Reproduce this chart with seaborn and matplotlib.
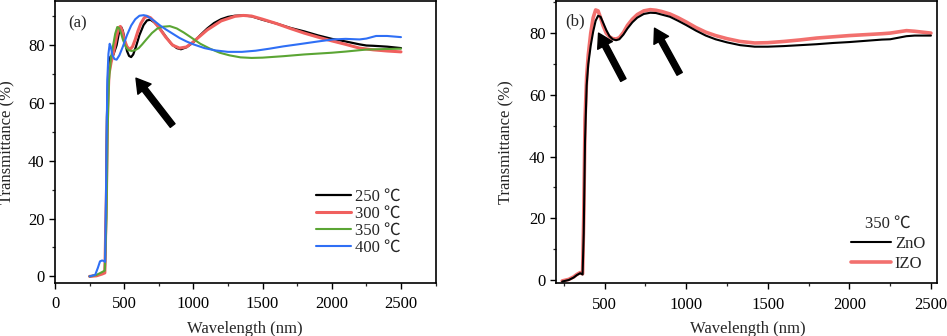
import matplotlib
matplotlib.use("Agg")
import matplotlib.pyplot as plt
import seaborn as sns
from matplotlib.ticker import MultipleLocator

# ---------------- data ----------------
wl_250 = [250, 300, 340, 360, 368, 375, 385, 400, 420, 445, 465, 478, 490, 505, 520,
          535, 550, 565, 585, 610, 640, 665, 690, 715, 740, 770, 800, 840, 880, 910,
          950, 1000, 1050, 1100, 1150, 1200, 1250, 1300, 1360, 1420, 1500, 1600, 1700,
          1800, 1900, 2000, 2100, 2200, 2250, 2300, 2400, 2500]
T_250 = [0, 0.3, 1.0, 1.5, 20, 55, 72, 76, 76.5, 80, 85, 86.3, 85, 81.5, 78,
         76.3, 75.9, 76.8, 79.5, 83.5, 87, 88.6, 88.8, 88.0, 86.8, 85, 83, 80.5, 79, 78.6,
         79.3, 81, 83.5, 85.8, 87.7, 89, 89.8, 90.2, 90.3, 90, 88.8, 87.5, 86,
         84.8, 83.4, 82.2, 81.3, 80.3, 79.9, 79.8, 79.5, 79]

wl_300 = [250, 300, 340, 360, 372, 380, 390, 405, 425, 445, 460, 472, 485, 500, 520,
          540, 560, 580, 600, 620, 645, 665, 690, 720, 760, 800, 850, 900, 950, 1000,
          1100, 1200, 1300, 1360, 1420, 1500, 1600, 1700, 1800, 1900, 2000, 2100, 2200,
          2300, 2400, 2500]
T_300 = [0, 0.2, 0.8, 1.2, 30, 58, 70, 74, 78, 83, 86, 86.5, 85, 82, 79.5,
         78.5, 79.5, 82, 85, 87.5, 89.5, 90, 89.5, 88, 85.5, 82.8, 80, 79, 79.4, 81.2,
         85.3, 88.4, 90, 90.3, 90.1, 89, 87.5, 85.8, 84.2, 82.8, 81.5, 80.3, 79,
         78.4, 78, 77.7]

wl_350 = [250, 300, 340, 360, 372, 380, 390, 405, 420, 435, 450, 462, 475, 490, 510,
          530, 555, 580, 605, 630, 660, 700, 740, 780, 830, 880, 930, 980, 1050, 1120,
          1190, 1260, 1340, 1420, 1500, 1650, 1800, 2000, 2100, 2250, 2400, 2500]
T_350 = [0, 0.5, 1.5, 2, 20, 50, 68, 76, 80, 84, 86.3, 86, 84.5, 82, 79.5,
         78.3, 78, 78.3, 79, 80.3, 82, 84.2, 85.8, 86.4, 86.6, 85.8, 84.4, 82.8, 80.5, 78.8,
         77.4, 76.5, 75.8, 75.6, 75.7, 76.2, 76.8, 77.4, 77.8, 78.5, 78.7, 78.8]

wl_400 = [250, 290, 310, 325, 340, 354, 362, 370, 378, 386, 395, 403, 415, 430, 445,
          465, 490, 520, 550, 580, 610, 640, 660, 690, 720, 760, 800, 850, 900, 950,
          1000, 1080, 1160, 1250, 1350, 1450, 1550, 1650, 1770, 1900, 2010, 2100, 2200,
          2250, 2320, 2400, 2500]
T_400 = [0, 0.5, 3, 5.2, 5.5, 5.3, 5, 35, 68, 77, 80.5, 79.5, 76.5, 75.2, 75,
         76.5, 79.5, 83.5, 86.8, 89, 90.2, 90.4, 90.2, 89.3, 88.3, 86.8, 85.5, 84, 82.5, 81.3,
         80.3, 79, 78.2, 77.7, 77.7, 78.1, 78.8, 79.6, 80.4, 81.3, 82, 82.2, 82,
         82.3, 83.2, 83.2, 82.8]

wl_b = [240, 280, 310, 330, 350, 365, 372, 380, 390, 400, 415, 430, 445, 460, 475,
        490, 510, 530, 550, 570, 590, 615, 640, 670, 700, 740, 780, 815, 850, 900,
        950, 1000, 1060, 1120, 1180, 1250, 1330, 1420, 1500, 1600, 1700, 1800, 1900,
        2000, 2100, 2200, 2250, 2300, 2350, 2400, 2500]
T_ZnO = [-0.5, 0, 0.8, 1.6, 2.2, 1.8, 15, 45, 63, 70, 76, 80.5, 84, 85.6, 85.3,
         83.5, 81, 79, 78, 77.7, 78, 79.5, 81.5, 83.5, 85, 86.2, 86.6, 86.5, 86, 85.3,
         84, 82.6, 80.8, 79.2, 78, 77, 76.1, 75.6, 75.6, 75.8, 76.1, 76.4, 76.8,
         77.1, 77.5, 77.9, 78, 78.5, 79, 79.2, 79.2]
T_IZO = [-0.3, 0.2, 1, 1.8, 2.4, 2, 20, 52, 66, 73, 80, 85, 87.5, 87.2, 85,
         82.5, 80, 78.8, 78.2, 78.1, 78.5, 80.2, 82.5, 84.5, 86, 87.2, 87.6, 87.4, 87, 86.2,
         85, 83.6, 81.8, 80.3, 79.2, 78.2, 77.3, 76.8, 76.9, 77.3, 77.8, 78.4, 78.8,
         79.2, 79.5, 79.8, 80, 80.4, 80.8, 80.6, 80]

labels_a = ["250 ℃", "300 ℃", "350 ℃", "400 ℃"]
labels_b = ["ZnO", "IZO"]
legend_title_b = "350 ℃"

# ---------------- style ----------------
sns.set_style("ticks")
plt.rcParams['font.family'] = ['Liberation Serif', 'Noto Sans CJK SC', 'DejaVu Sans']
plt.rcParams['font.size'] = 12

fig = plt.figure(figsize=(9.47, 3.36), dpi=100)
ax1 = fig.add_axes([0.0581, 0.1577, 0.4023, 0.8393])
ax2 = fig.add_axes([0.5871, 0.1568, 0.4023, 0.8402])

c_black = "#000000"
c_red = "#f0605e"
c_green = "#5ba534"
c_blue = "#2f6ff5"

series_a = [(wl_250, T_250, c_black, 1.6), (wl_300, T_300, c_red, 2.2),
            (wl_350, T_350, c_green, 1.5), (wl_400, T_400, c_blue, 1.5)]
for (x, y, c, lw), lab in zip(series_a, labels_a):
    sns.lineplot(x=x, y=y, ax=ax1, color=c, linewidth=lw, label=lab,
                 sort=False, estimator=None)

sns.lineplot(x=wl_b, y=T_IZO, ax=ax2, color="#f2706e", linewidth=2.6,
             label=labels_b[1], sort=False, estimator=None, zorder=2)
sns.lineplot(x=wl_b, y=T_ZnO, ax=ax2, color=c_black, linewidth=1.5,
             label=labels_b[0], sort=False, estimator=None, zorder=3)

# axes limits / ticks
ax1.set_xlim(0, 2753)
ax1.set_ylim(-2.3, 95.3)
ax2.set_xlim(202, 2537)
ax2.set_ylim(-1.07, 90.4)

for ax in (ax1, ax2):
    ax.xaxis.set_major_locator(MultipleLocator(500))
    ax.xaxis.set_minor_locator(MultipleLocator(250))
    ax.yaxis.set_major_locator(MultipleLocator(20))
    ax.yaxis.set_minor_locator(MultipleLocator(10))
    ax.tick_params(which='major', direction='out', length=4.5, width=1.0,
                   labelsize=12, pad=3, colors='black')
    ax.tick_params(which='minor', direction='out', length=2.5, width=0.9)
    ax.tick_params(axis='x', which='major', pad=5)
    for s in ax.spines.values():
        s.set_visible(True)
        s.set_linewidth(1.2)
        s.set_color('black')
    ax.set_xlabel("Wavelength (nm)", fontsize=12)
    ax.set_ylabel("Transmittance (%)", fontsize=12)

ax2.set_xticks([500, 1000, 1500, 2000, 2500])

ax1.yaxis.set_label_coords(-0.105, 0.5)
ax2.yaxis.set_label_coords(-0.110, 0.5)
ax1.xaxis.set_label_coords(0.499, -0.134)
ax2.xaxis.set_label_coords(0.503, -0.133)

ax1.text(0.034, 0.922, "(a)", transform=ax1.transAxes, ha='left', va='center', fontsize=12)
ax2.text(0.024, 0.929, "(b)", transform=ax2.transAxes, ha='left', va='center', fontsize=12)

# arrows
arrow_kw = dict(arrowstyle="simple,head_length=1.0,head_width=1.2,tail_width=0.43",
                color="black", mutation_scale=10, shrinkA=0, shrinkB=0)
ax1.annotate("", xy=(585, 68.6), xytext=(850, 52.2), arrowprops=arrow_kw)
ax2.annotate("", xy=(463, 80), xytext=(615, 64.8), arrowprops=arrow_kw)
ax2.annotate("", xy=(806, 81.6), xytext=(960, 66.8), arrowprops=arrow_kw)

# legends
ax1.legend(loc='center', bbox_to_anchor=(0.795, 0.214), frameon=False, fontsize=12,
           handlelength=2.1, handletextpad=0.25, labelspacing=0.06, borderpad=0.2)
h, l = ax2.get_legend_handles_labels()
order = [l.index("ZnO"), l.index("IZO")]
ax2.legend([h[i] for i in order], [l[i] for i in order], loc='center',
           bbox_to_anchor=(0.871, 0.14), frameon=False, fontsize=12,
           title=legend_title_b, title_fontsize=12,
           handlelength=2.4, handletextpad=0.25, labelspacing=0.25, borderpad=0.2)

fig.savefig("out.png", dpi=100)
